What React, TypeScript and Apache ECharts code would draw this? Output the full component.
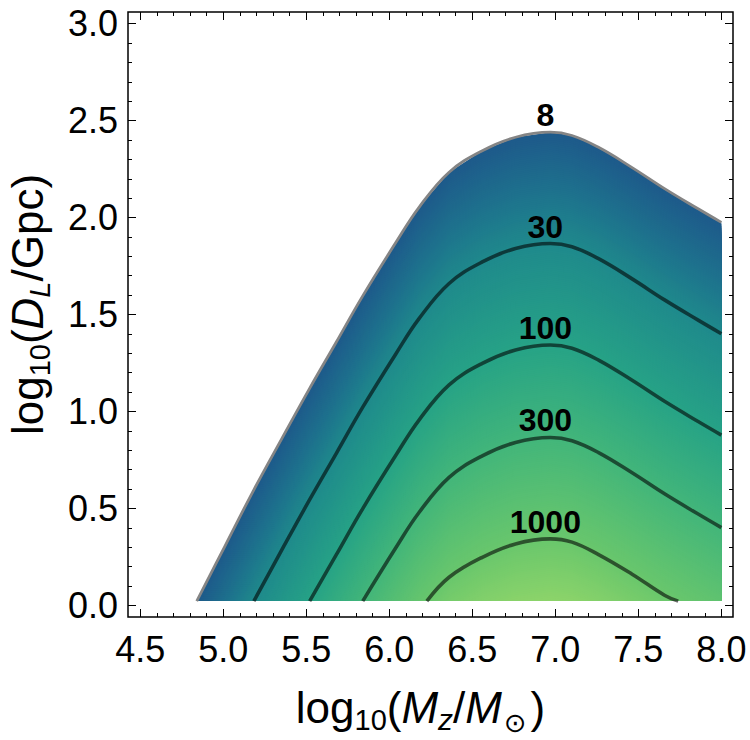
import React, { useEffect, useRef } from "react";
import * as echarts from "echarts";

// ---- data (log10 Mz, log10 DL) ----
const LEVELS = [8, 30, 100, 300, 1000];

const CONTOUR_8 = [
  [4.84, 0.022], [5.01, 0.306], [5.184, 0.596], [5.35, 0.856], [5.52, 1.119],
  [5.68, 1.357], [5.84, 1.596], [6.04, 1.872], [6.18, 2.054], [6.36, 2.234],
  [6.56, 2.345], [6.76, 2.414], [6.97, 2.44], [7.1, 2.423], [7.26, 2.362],
  [7.46, 2.259], [7.66, 2.148], [7.86, 2.045], [8.0, 1.975],
];
const CONTOUR_30 = [
  [5.184, 0.022], [5.35, 0.282], [5.52, 0.545], [5.68, 0.783], [5.84, 1.022],
  [6.04, 1.298], [6.18, 1.48], [6.36, 1.66], [6.56, 1.771], [6.76, 1.84],
  [6.97, 1.866], [7.1, 1.849], [7.26, 1.788], [7.46, 1.685], [7.66, 1.574],
  [7.86, 1.471], [8.0, 1.401],
];
const CONTOUR_100 = [
  [5.52, 0.022], [5.68, 0.26], [5.84, 0.499], [6.04, 0.775], [6.18, 0.957],
  [6.36, 1.137], [6.56, 1.248], [6.76, 1.317], [6.97, 1.343], [7.1, 1.326],
  [7.26, 1.265], [7.46, 1.162], [7.66, 1.051], [7.86, 0.948], [8.0, 0.878],
];
const CONTOUR_300 = [
  [5.84, 0.022], [6.04, 0.298], [6.18, 0.48], [6.36, 0.66], [6.56, 0.771],
  [6.76, 0.84], [6.97, 0.866], [7.1, 0.849], [7.26, 0.788], [7.46, 0.685],
  [7.66, 0.574], [7.86, 0.471], [8.0, 0.401],
];
const CONTOUR_1000 = [
  [6.226, 0.022], [6.36, 0.145], [6.56, 0.248], [6.76, 0.317], [6.97, 0.343],
  [7.1, 0.326], [7.26, 0.262], [7.46, 0.162], [7.66, 0.051], [7.74, 0.022],
];
const CONTOURS = [CONTOUR_8, CONTOUR_30, CONTOUR_100, CONTOUR_300, CONTOUR_1000];

// extent of the computed field
const FIELD_X_MAX = 8.0;
const FIELD_Y_MIN = 0.022;
const FIELD_DEPTH = 2.42; // log10(SNR/8) at the deepest point

// axes
const X_RANGE = [4.426, 8.07];
const Y_RANGE = [-0.06, 3.06];
const X_MAJOR = [4.5, 5.0, 5.5, 6.0, 6.5, 7.0, 7.5, 8.0];
const Y_MAJOR = [0.0, 0.5, 1.0, 1.5, 2.0, 2.5, 3.0];
const X_MINOR = [
  4.5, 4.6, 4.7, 4.8, 4.9, 5.0, 5.1, 5.2, 5.3, 5.4, 5.5, 5.6, 5.7, 5.8, 5.9, 6.0,
  6.1, 6.2, 6.3, 6.4, 6.5, 6.6, 6.7, 6.8, 6.9, 7.0, 7.1, 7.2, 7.3, 7.4, 7.5, 7.6,
  7.7, 7.8, 7.9, 8.0,
];
const Y_MINOR = [
  0.0, 0.1, 0.2, 0.3, 0.4, 0.5, 0.6, 0.7, 0.8, 0.9, 1.0, 1.1, 1.2, 1.3, 1.4, 1.5,
  1.6, 1.7, 1.8, 1.9, 2.0, 2.1, 2.2, 2.3, 2.4, 2.5, 2.6, 2.7, 2.8, 2.9, 3.0,
];

// colour map (style): depth log10(SNR/8) -> colour
const CMAP: [number, string][] = [
  [0.0, "#1e5a8b"],
  [0.3, "#1e728d"],
  [0.574, "#1f8a8c"],
  [1.097, "#27a386"],
  [1.574, "#43b67a"],
  [2.097, "#6ac76c"],
  [2.42, "#8dd46a"],
];

const FONT = "'Liberation Sans', Arial, 'DejaVu Sans', sans-serif";

function hexToRgb(h: string) {
  const n = parseInt(h.slice(1), 16);
  return [(n >> 16) & 255, (n >> 8) & 255, n & 255];
}
function colorAt(s: number) {
  for (let i = 0; i < CMAP.length - 1; i++) {
    const [a, ca] = CMAP[i];
    const [b, cb] = CMAP[i + 1];
    if (s <= b || i === CMAP.length - 2) {
      const t = Math.max(0, Math.min(1, (s - a) / (b - a)));
      const A = hexToRgb(ca), B = hexToRgb(cb);
      const r = Math.round(A[0] + (B[0] - A[0]) * t);
      const g = Math.round(A[1] + (B[1] - A[1]) * t);
      const bl = Math.round(A[2] + (B[2] - A[2]) * t);
      return `rgb(${r},${g},${bl})`;
    }
  }
  return CMAP[CMAP.length - 1][1];
}
function clipBelow(poly: number[][], y0: number) {
  const out: number[][] = [];
  for (let i = 0; i < poly.length; i++) {
    const a = poly[i], b = poly[(i + 1) % poly.length];
    const ain = a[1] >= y0, bin = b[1] >= y0;
    if (ain) out.push(a);
    if (ain !== bin) {
      const t = (y0 - a[1]) / (b[1] - a[1]);
      out.push([a[0] + t * (b[0] - a[0]), y0]);
    }
  }
  return out;
}

const axisTickStyle = { color: "#000", width: 1 };
const noLine = { show: false, onZero: false };

function xAxes() {
  const base = {
    type: "value", min: X_RANGE[0], max: X_RANGE[1],
    splitLine: { show: false }, axisLine: noLine,
  };
  return [
    {
      ...base, position: "bottom",
      axisTick: { show: true, inside: true, length: 8, customValues: X_MAJOR, lineStyle: axisTickStyle },
      axisLabel: {
        show: true, customValues: X_MAJOR, formatter: (v: number) => v.toFixed(1),
        fontSize: 36, color: "#000", fontFamily: FONT, margin: 14,
      },
      name: "{a|log}{s|10}{a|(}{i|M}{si|z}{a|/}{i|M}{so|⊙}{e|)}",
      nameLocation: "middle", nameGap: 62,
      nameTextStyle: {
        color: "#000",
        rich: {
          a: { fontSize: 44, fontFamily: FONT, color: "#000" },
          e: { fontSize: 44, fontFamily: FONT, color: "#000", padding: [0, 20, 0, 0] },
          i: { fontSize: 44, fontFamily: FONT, fontStyle: "italic", color: "#000" },
          s: { fontSize: 29, fontFamily: FONT, color: "#000", padding: [24, 0, 0, 0] },
          si: { fontSize: 30, fontFamily: FONT, fontStyle: "italic", color: "#000", padding: [24, 0, 0, 0] },
          so: { fontSize: 27, fontFamily: "'DejaVu Sans'", color: "#000", padding: [30, 4, 0, 2] },
        },
      },
    },
    {
      ...base, position: "top",
      axisTick: { show: true, inside: true, length: 8, customValues: X_MAJOR, lineStyle: axisTickStyle },
      axisLabel: { show: false },
    },
    {
      ...base, position: "bottom",
      axisTick: { show: true, inside: true, length: 4, customValues: X_MINOR, lineStyle: axisTickStyle },
      axisLabel: { show: false },
    },
    {
      ...base, position: "top",
      axisTick: { show: true, inside: true, length: 4, customValues: X_MINOR, lineStyle: axisTickStyle },
      axisLabel: { show: false },
    },
  ];
}

function yAxes() {
  const base = {
    type: "value", min: Y_RANGE[0], max: Y_RANGE[1],
    splitLine: { show: false }, axisLine: noLine,
  };
  return [
    {
      ...base, position: "left",
      axisTick: { show: true, inside: true, length: 8, customValues: Y_MAJOR, lineStyle: axisTickStyle },
      axisLabel: {
        show: true, customValues: Y_MAJOR, formatter: (v: number) => v.toFixed(1),
        fontSize: 36, color: "#000", fontFamily: FONT, margin: 10,
      },
      name: "{b|log}{s|10}{a|(}{i|D}{si|L}{a|/Gpc)}",
      nameLocation: "middle", nameGap: 74, nameRotate: 90,
      nameTextStyle: {
        color: "#000",
        rich: {
          a: { fontSize: 44, fontFamily: FONT, color: "#000" },
          b: { fontSize: 44, fontFamily: FONT, color: "#000", padding: [0, 0, 0, 20] },
          i: { fontSize: 44, fontFamily: FONT, fontStyle: "italic", color: "#000" },
          s: { fontSize: 29, fontFamily: FONT, color: "#000", padding: [24, 0, 0, 0] },
          si: { fontSize: 29, fontFamily: FONT, fontStyle: "italic", color: "#000", padding: [24, 0, 0, 0] },
        },
      },
    },
    {
      ...base, position: "right",
      axisTick: { show: true, inside: true, length: 8, customValues: Y_MAJOR, lineStyle: axisTickStyle },
      axisLabel: { show: false },
    },
    {
      ...base, position: "left",
      axisTick: { show: true, inside: true, length: 4, customValues: Y_MINOR, lineStyle: axisTickStyle },
      axisLabel: { show: false },
    },
    {
      ...base, position: "right",
      axisTick: { show: true, inside: true, length: 4, customValues: Y_MINOR, lineStyle: axisTickStyle },
      axisLabel: { show: false },
    },
  ];
}

function peakOf(c: number[][]) {
  let best = c[0];
  for (const p of c) if (p[1] > best[1]) best = p;
  return best;
}

export default function App() {
  const ref = useRef<HTMLDivElement>(null);
  useEffect(() => {
    document.body.style.margin = "0";
    if (!ref.current) return;
    const chart = echarts.init(ref.current, null, { renderer: "svg" });

    const shading = {
      type: "custom",
      coordinateSystem: "cartesian2d",
      xAxisIndex: 0, yAxisIndex: 0,
      silent: true, z: 1,
      data: [[6, 1]],
      renderItem: (_params: any, api: any) => {
        const children: any[] = [];
        const step = 0.01;
        for (let s = 0; s <= FIELD_DEPTH + 1e-9; s += step) {
          const poly = CONTOUR_8.map(([x, y]) => [x, y - s]);
          poly.push([FIELD_X_MAX, FIELD_Y_MIN - 5]);
          poly.push([CONTOUR_8[0][0], FIELD_Y_MIN - 5]);
          const clipped = clipBelow(poly, FIELD_Y_MIN);
          if (clipped.length < 3) break;
          children.push({
            type: "polygon",
            shape: { points: clipped.map((p) => api.coord(p)) },
            style: { fill: colorAt(s) },
          });
        }
        return { type: "group", children };
      },
    };

    const lines = CONTOURS.map((c, i) => ({
      type: "line",
      xAxisIndex: 0, yAxisIndex: 0,
      data: c,
      smooth: 0.4,
      symbol: "none",
      silent: true,
      z: 3,
      lineStyle: i === 0
        ? { color: "#858585", width: 2.8 }
        : { color: "rgba(0,0,0,0.58)", width: 3.6 },
    }));

    const labels = {
      type: "custom",
      coordinateSystem: "cartesian2d",
      xAxisIndex: 0, yAxisIndex: 0,
      silent: true, z: 5,
      data: LEVELS.map((lv, i) => [...peakOf(CONTOURS[i]), lv]),
      renderItem: (_params: any, api: any) => {
        const p = api.coord([api.value(0), api.value(1)]);
        return {
          type: "text",
          x: p[0] - 5,
          y: p[1] - 1,
          style: {
            text: String(api.value(2)),
            fill: "#000",
            font: `bold 32px ${FONT}`,
            textAlign: "center",
            textVerticalAlign: "bottom",
          },
        };
      },
    };

    chart.setOption({
      animation: false,
      backgroundColor: "#fff",
      textStyle: { fontFamily: FONT },
      grid: {
        left: 128, right: 17, top: 12, bottom: 123,
        show: true, borderColor: "#000", borderWidth: 1.5,
        backgroundColor: "transparent",
        containLabel: false, outerBoundsMode: "none",
      },
      xAxis: xAxes(),
      yAxis: yAxes(),
      series: [shading, ...lines, labels],
    });
    return () => chart.dispose();
  }, []);
  return <div ref={ref} style={{ width: 750, height: 740 }} />;
}
